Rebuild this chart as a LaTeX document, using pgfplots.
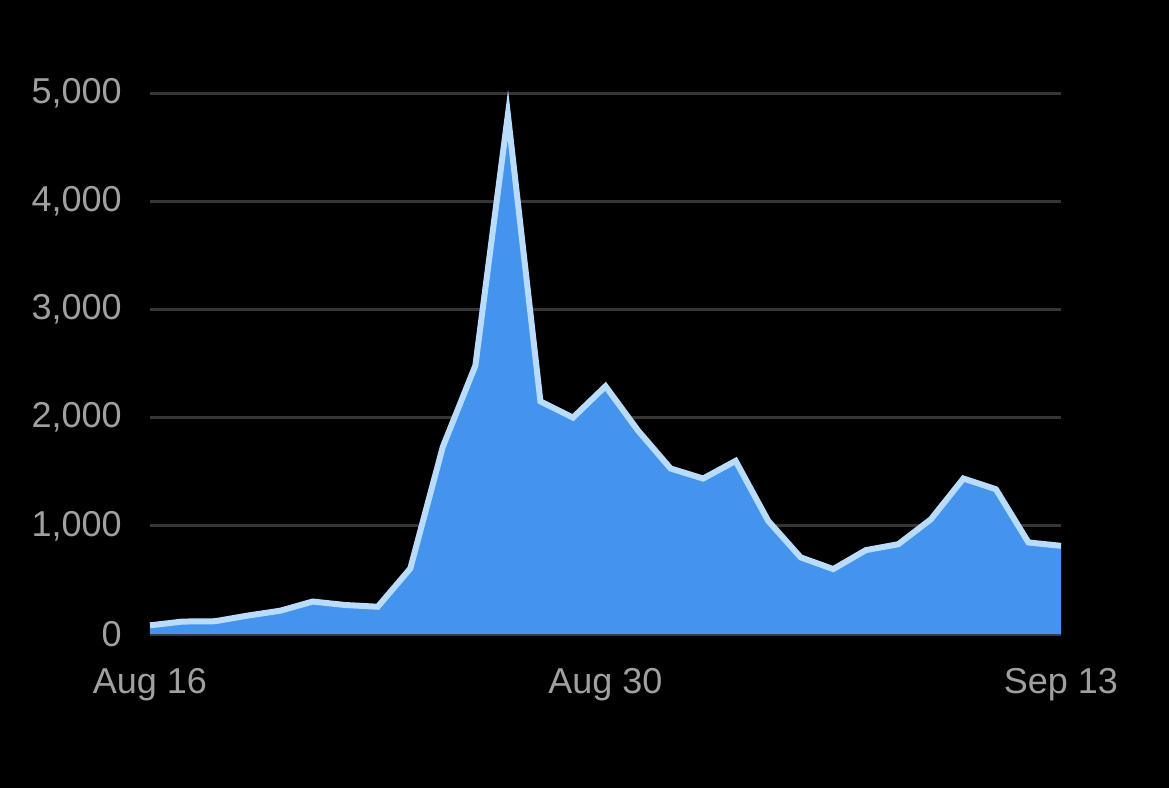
\documentclass[border=0pt]{standalone}
\usepackage{fontspec}
\setmainfont{Liberation Sans}
\usepackage{pgfplots}
\pgfplotsset{compat=1.18}
\definecolor{areafill}{HTML}{4493ED}
\definecolor{arealine}{HTML}{B9DBFC}
\definecolor{gridgray}{HTML}{363636}
\definecolor{labelgray}{HTML}{A0A0A0}
\begin{document}
\begin{tikzpicture}
% canvas 1169x788 px at 0.5pt per px
\fill[black] (0,0) rectangle (584.5pt,394pt);
\begin{axis}[
    at={(75pt,77pt)}, anchor=south west,
    scale only axis,
    width=455.5pt, height=270.5pt,
    xmin=0, xmax=28, ymin=0, ymax=5000,
    clip=false,
    axis line style={draw=none},
    tick style={draw=none},
    xtick={0,14,28},
    xticklabels={Aug 16, Aug 30, Sep 13},
    ytick={0,1000,2000,3000,4000,5000},
    ymajorgrids=true,
    major grid style={gridgray, line width=1.5pt},
    /pgf/number format/assume math mode=true,
    /pgf/number format/1000 sep={,},
    ticklabel style={font=\fontsize{18}{21}\selectfont, text=labelgray, inner sep=0pt},
    yticklabel style={anchor=east, xshift=-14pt},
    xticklabel style={anchor=north, yshift=-17pt},
]
\addplot[fill=areafill, draw=none] coordinates {
    (0,80) (1,115) (2,118) (3,170) (4,215) (5,300) (6,268) (7,252)
    (8,605) (9,1730) (10,2480) (11,4800) (12,2150) (13,2000) (14,2290)
    (15,1880) (16,1530) (17,1437) (18,1600) (19,1046) (20,708) (21,600)
    (22,775) (23,830) (24,1060) (25,1437) (26,1338) (27,846) (28,815)
} \closedcycle;
\addplot[arealine, line width=3pt] coordinates {
    (0,80) (1,115) (2,118) (3,170) (4,215) (5,300) (6,268) (7,252)
    (8,605) (9,1730) (10,2480) (11,4800) (12,2150) (13,2000) (14,2290)
    (15,1880) (16,1530) (17,1437) (18,1600) (19,1046) (20,708) (21,600)
    (22,775) (23,830) (24,1060) (25,1437) (26,1338) (27,846) (28,815)
};
\end{axis}
\end{tikzpicture}
\end{document}
